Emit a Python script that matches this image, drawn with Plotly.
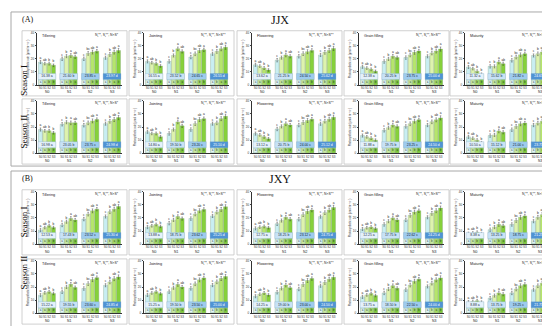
import plotly.graph_objects as go

W, H = 550, 326

SITES = ["JJX", "JXY"]
PANEL_TAGS = ["(A)", "(B)"]
SEASONS = ["Season I", "Season II"]
STAGES = ["Tillering", "Jointing", "Flowering", "Grain filling", "Maturity"]
N_LEVELS = ["N0", "N1", "N2", "N3"]
S_LEVELS = ["S0", "S1", "S2", "S3"]
Y_TICKS = [0, 10, 20, 30, 40]

# photosynthetic rate, 16 values per panel: N0(S0..S3), N1(S0..S3), N2(...), N3(...)
JJX_S1_TILLERING = [17.6, 16.4, 16.4, 15.1, 20.1, 22.1, 22.6, 21.6, 20.1, 24.2, 25.2, 25.9, 20.9, 23.4, 25.2, 26.4]
JJX_S1_JOINTING = [18.1, 17.1, 16.4, 14.6, 18.1, 22.6, 27.7, 25.7, 21.4, 23.9, 26.4, 26.9, 23.9, 25.7, 27.7, 28.9]
JJX_S1_FLOWERING = [15.5, 14.5, 13.0, 11.5, 19.0, 21.0, 23.0, 22.0, 22.0, 24.0, 25.5, 26.5, 23.0, 25.0, 26.5, 28.0]
JJX_S1_GRAIN = [14.0, 13.0, 12.0, 10.5, 18.0, 20.0, 22.0, 21.0, 21.0, 23.0, 25.0, 26.0, 22.0, 24.5, 26.0, 27.5]
JJX_S1_MATURITY = [13.8, 12.6, 10.6, 8.3, 14.3, 14.3, 17.6, 16.3, 18.9, 21.4, 23.1, 23.9, 22.6, 23.9, 25.2, 26.9]
JJX_S2_TILLERING = [18.1, 17.1, 17.1, 15.6, 22.1, 23.7, 23.2, 23.2, 21.4, 23.2, 24.7, 25.7, 22.6, 24.4, 25.7, 27.2]
JJX_S2_JOINTING = [16.4, 15.1, 15.1, 12.6, 15.1, 18.1, 23.9, 20.9, 18.1, 22.6, 25.7, 26.4, 22.6, 23.2, 26.4, 28.2]
JJX_S2_FLOWERING = [15.0, 14.0, 12.5, 11.0, 18.5, 20.5, 22.5, 21.5, 21.5, 23.5, 25.0, 26.0, 22.5, 24.5, 26.0, 27.5]
JJX_S2_GRAIN = [13.5, 12.5, 11.5, 10.0, 17.5, 19.5, 21.5, 20.5, 20.5, 22.5, 24.5, 25.5, 21.5, 24.0, 25.5, 27.0]
JJX_S2_MATURITY = [12.5, 11.5, 10.0, 8.0, 13.5, 14.0, 17.0, 16.0, 18.0, 20.5, 22.5, 23.0, 21.5, 23.0, 24.5, 26.0]
JXY_S1_TILLERING = [10.8, 12.6, 14.1, 12.6, 14.6, 17.1, 19.6, 18.4, 19.1, 22.9, 25.4, 26.7, 21.1, 24.7, 26.7, 28.7]
JXY_S1_JOINTING = [13.0, 14.0, 15.0, 13.5, 16.0, 18.5, 21.0, 19.5, 19.5, 23.0, 25.5, 26.5, 21.5, 24.5, 26.5, 28.5]
JXY_S1_FLOWERING = [12.0, 13.0, 13.5, 12.5, 15.5, 18.0, 20.5, 19.0, 19.0, 22.5, 25.0, 26.0, 21.0, 24.0, 26.0, 28.0]
JXY_S1_GRAIN = [11.5, 12.5, 13.0, 12.0, 15.0, 17.5, 20.0, 18.5, 18.5, 22.0, 24.5, 25.5, 20.5, 23.5, 25.5, 27.5]
JXY_S1_MATURITY = [8.0, 8.5, 9.0, 8.0, 11.0, 13.0, 15.0, 14.0, 15.0, 18.0, 20.5, 21.5, 17.5, 20.5, 22.5, 24.5]
JXY_S2_TILLERING = [13.8, 15.6, 16.4, 15.1, 16.4, 20.1, 22.1, 19.6, 18.9, 22.6, 25.7, 27.2, 21.4, 23.9, 26.4, 27.7]
JXY_S2_JOINTING = [14.0, 15.5, 16.5, 15.0, 16.5, 19.5, 22.0, 20.0, 19.0, 22.5, 25.5, 27.0, 21.5, 24.0, 26.5, 28.0]
JXY_S2_FLOWERING = [13.0, 14.5, 15.5, 14.0, 16.0, 19.0, 21.5, 19.5, 18.5, 22.0, 25.0, 26.5, 21.0, 23.5, 26.0, 27.5]
JXY_S2_GRAIN = [12.5, 14.0, 15.0, 13.5, 15.5, 18.5, 21.0, 19.0, 18.0, 21.5, 24.5, 26.0, 20.5, 23.0, 25.5, 27.0]
JXY_S2_MATURITY = [8.5, 9.0, 9.5, 8.5, 11.5, 13.5, 15.5, 14.5, 15.5, 18.5, 21.0, 22.0, 18.0, 21.0, 23.0, 25.0]

ERRORS = [1.2, 1.0, 1.1, 1.0, 1.3, 1.2, 1.4, 1.2, 1.3, 1.4, 1.5, 1.3, 1.2, 1.4, 1.5, 1.6]
BAR_LETTERS = ["a", "ab", "b", "b", "c", "b", "a", "ab", "c", "bc", "ab", "a", "c", "b", "ab", "a"]
BOX_LETTERS = ["a", "a", "b", "b", "a", "a", "b", "a", "a", "a", "b", "b", "a", "b", "a", "b"]
GROUP_LETTERS = ["a", "b", "c", "d"]

STATS = {
    "Tillering": "N<sub>t</sub>**, S<sub>t</sub>**, N×S*",
    "Jointing": "N<sub>t</sub>**, S<sub>t</sub>**, N×S**",
    "Flowering": "N<sub>t</sub>**, S<sub>t</sub>**, N×S**",
    "Grain filling": "N<sub>t</sub>**, S<sub>t</sub>**, N×S**",
    "Maturity": "N<sub>t</sub>**, S<sub>t</sub>**, N×S**",
}

PANEL_DATA = [
    [JJX_S1_TILLERING, JJX_S1_JOINTING, JJX_S1_FLOWERING, JJX_S1_GRAIN, JJX_S1_MATURITY],
    [JJX_S2_TILLERING, JJX_S2_JOINTING, JJX_S2_FLOWERING, JJX_S2_GRAIN, JJX_S2_MATURITY],
    [JXY_S1_TILLERING, JXY_S1_JOINTING, JXY_S1_FLOWERING, JXY_S1_GRAIN, JXY_S1_MATURITY],
    [JXY_S2_TILLERING, JXY_S2_JOINTING, JXY_S2_FLOWERING, JXY_S2_GRAIN, JXY_S2_MATURITY],
]

S_COLORS = ["#c9eef2", "#def3ae", "#b6e56c", "#86d13a"]
BOX_S_COLORS = ["#e8f8fa", "#cdeea0", "#a6de5a", "#7cc933"]
N_BOX_COLORS = ["#e4f1fb", "#c8e2f6", "#9ecbee", "#4f93d4"]

# ---------- geometry (pixels) ----------
PANEL_LEFT = [14, 121, 229, 336, 442]
PANEL_W = 105
ROW_TOP = [21, 90, 182, 252]
PANEL_H = 66
OUTER = [(3, 2, 548, 158), (3, 163, 548, 322)]


def fx(x):
    return x / W


def fy(y):
    return 1 - y / H


fig = go.Figure()
shapes = []
annotations = []

for (x0, y0, x1, y1) in OUTER:
    shapes.append(dict(type="rect", xref="paper", yref="paper", x0=fx(x0), x1=fx(x1), y0=fy(y1), y1=fy(y0),
                       line=dict(color="#a8a8a8", width=1), fillcolor="rgba(0,0,0,0)", layer="below"))

for b in range(2):
    ox0, oy0, ox1, oy1 = OUTER[b]
    annotations.append(dict(x=fx(12), y=fy(oy0 + 8), xref="paper", yref="paper", text=PANEL_TAGS[b],
                            showarrow=False, xanchor="left", yanchor="middle",
                            font=dict(family="Liberation Serif", size=8, color="#111")))
    annotations.append(dict(x=fx(272), y=fy(oy0 + 8), xref="paper", yref="paper", text=SITES[b],
                            showarrow=False, xanchor="center", yanchor="middle",
                            font=dict(family="Liberation Serif", size=12, color="#111")))

xpos = [g * 5 + s for g in range(4) for s in range(4)]
group_centers = [g * 5 + 1.5 for g in range(4)]

k = 0
for r in range(4):
    top = ROW_TOP[r]
    annotations.append(dict(x=fx(9), y=fy(top + PANEL_H / 2), xref="paper", yref="paper",
                            text=SEASONS[r % 2], textangle=-90, showarrow=False,
                            font=dict(family="Liberation Serif", size=9, color="#111")))
    for c in range(5):
        k += 1
        vals = PANEL_DATA[r][c]
        left = PANEL_LEFT[c]
        shapes.append(dict(type="rect", xref="paper", yref="paper",
                           x0=fx(left), x1=fx(left + PANEL_W), y0=fy(top + PANEL_H), y1=fy(top),
                           line=dict(color="#c4c4c4", width=0.8), fillcolor="white", layer="below"))
        ax_x0, ax_x1 = left + 15, left + 100
        ax_top, ax_zero = top + 2, top + 55
        xa = "xaxis" if k == 1 else f"xaxis{k}"
        ya = "yaxis" if k == 1 else f"yaxis{k}"
        xr = "x" if k == 1 else f"x{k}"
        yr = "y" if k == 1 else f"y{k}"
        fig.layout[xa] = dict(domain=[fx(ax_x0), fx(ax_x1)], anchor=yr, range=[-0.8, 18.8],
                              tickvals=xpos, ticktext=S_LEVELS * 4, ticks="", showline=True,
                              tickangle=0, ticklabelstandoff=0,
                              linecolor="#333", linewidth=0.5, tickfont=dict(size=3, color="#333"),
                              showgrid=False, zeroline=False, fixedrange=True)
        fig.layout[ya] = dict(domain=[fy(ax_zero), fy(ax_top)], anchor=xr, range=[0, 40],
                              tickvals=Y_TICKS, ticks="outside", ticklen=1.5, tickwidth=0.4,
                              showline=True, linecolor="#333", linewidth=0.5,
                              tickfont=dict(size=3, color="#333"), showgrid=False, zeroline=False,
                              fixedrange=True,
                              title=dict(text="Photosynthetic rate (μmol m<sup>-2</sup> s<sup>-1</sup>)",
                                         font=dict(size=2.6, color="#333"), standoff=1))
        for s in range(4):
            idx = [g * 4 + s for g in range(4)]
            fig.add_trace(go.Bar(x=[xpos[i] for i in idx], y=[vals[i] for i in idx], width=0.9,
                                 marker=dict(color=S_COLORS[s], line=dict(color="#6f8f6f", width=0.3)),
                                 error_y=dict(type="data", array=[ERRORS[i] for i in idx], thickness=0.4,
                                              width=0.8, color="#333"),
                                 xaxis=xr, yaxis=yr, showlegend=False, hoverinfo="skip"))
        # group summary boxes (mean of group)
        means = [sum(vals[g * 4:g * 4 + 4]) / 4 for g in range(4)]
        fig.add_trace(go.Bar(x=group_centers, y=[4.6] * 4, base=[4.2] * 4, width=4.1,
                             marker=dict(color=N_BOX_COLORS, line=dict(color="#7fa6c8", width=0.3)),
                             xaxis=xr, yaxis=yr, showlegend=False, hoverinfo="skip"))
        fig.add_trace(go.Scatter(x=group_centers, y=[6.5] * 4, mode="text",
                                 text=[f"{m:.2f} {GROUP_LETTERS[g]}" for g, m in enumerate(means)],
                                 textfont=dict(size=3.4, color=["#234", "#234", "#123", "white"]),
                                 xaxis=xr, yaxis=yr, showlegend=False, hoverinfo="skip"))
        # small per-bar boxes
        fig.add_trace(go.Bar(x=xpos, y=[3.0] * 16, base=[0.6] * 16, width=0.8,
                             marker=dict(color=[BOX_S_COLORS[i % 4] for i in range(16)],
                                         line=dict(color="#8fb08f", width=0.3)),
                             xaxis=xr, yaxis=yr, showlegend=False, hoverinfo="skip"))
        fig.add_trace(go.Scatter(x=xpos, y=[2.1] * 16, mode="text", text=BOX_LETTERS,
                                 textfont=dict(size=2.8, color="#234"),
                                 xaxis=xr, yaxis=yr, showlegend=False, hoverinfo="skip"))
        # letters above error bars
        fig.add_trace(go.Scatter(x=xpos, y=[v + e + 1.8 for v, e in zip(vals, ERRORS)], mode="text",
                                 text=BAR_LETTERS, textfont=dict(size=3.2, color="#222"),
                                 xaxis=xr, yaxis=yr, showlegend=False, hoverinfo="skip"))
        # group labels below ticks
        for g in range(4):
            annotations.append(dict(x=group_centers[g], y=fy(ax_zero + 7.5), xref=xr, yref="paper",
                                    text=N_LEVELS[g], showarrow=False, yanchor="middle",
                                    font=dict(size=3.4, color="#222")))
        annotations.append(dict(x=fx(ax_x0 + 3), y=fy(ax_top + 3), xref="paper", yref="paper",
                                text=STAGES[c], showarrow=False, xanchor="left", yanchor="middle",
                                font=dict(size=3.8, color="#222")))
        annotations.append(dict(x=fx(ax_x1 - 1), y=fy(ax_top + 3), xref="paper", yref="paper",
                                text=STATS[STAGES[c]], showarrow=False, xanchor="right", yanchor="middle",
                                font=dict(size=3.4, color="#222")))

fig.update_layout(width=W, height=H, margin=dict(l=0, r=0, t=0, b=0), barmode="overlay",
                  paper_bgcolor="white", plot_bgcolor="rgba(0,0,0,0)", shapes=shapes,
                  annotations=annotations, font=dict(family="Arial, Liberation Sans"))
fig.write_html("out.html")
